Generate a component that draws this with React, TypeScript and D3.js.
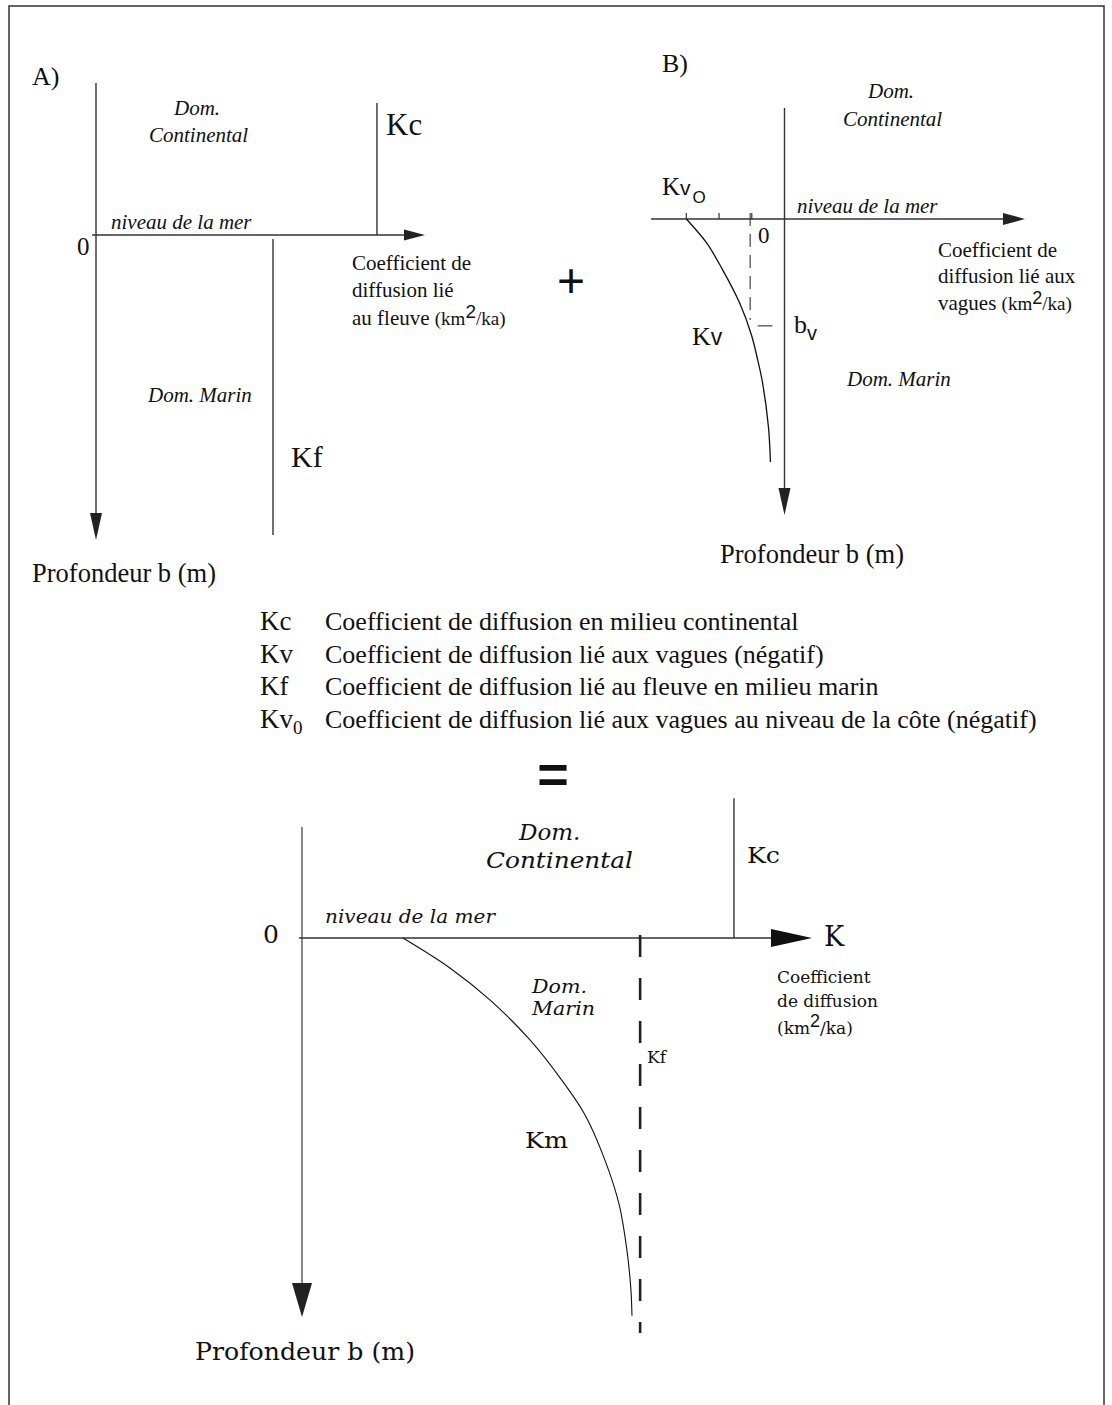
import React from 'react';
import * as d3 from 'd3';

// ---------- Panel A : river diffusion coefficient (constant) ----------
const aNames = ['Kc', 'Kf'];
const aK = [85.4, 53.8];
const aDepthFrom = [-43.3, 1.3];
const aDepthTo = [0, 98.4];

// ---------- Panel B : wave diffusion coefficient (negative) ----------
const bDepth = [0, 0.81, 1.72, 2.84, 3.92, 4.76, 5.54, 7.03, 8.21];
const bKv = [-3.0, -2.38, -1.89, -1.37, -1.01, -0.82, -0.67, -0.49, -0.43];
const bTicks = [-3, -2, -1];
const bDashK = -1.05;
const bDashDepth = [-0.2, 3.41];
const bvDepth = 3.61;
const bvK = [-0.82, -0.37];

// ---------- Panel C : resulting coefficient ----------
const cDepth = [0, 7.9, 16.4, 26.9, 36.9, 46.7, 58.6, 70.4, 82.3, 92.9, 99.7];
const cKm = [19.8, 29.0, 36.9, 44.7, 50.6, 55.5, 59.4, 62.2, 63.7, 64.5, 64.7];
const cKf = 66.3;
const cKfDepth = [-0.8, 104.2];
const cKc = 84.7;
const cKcTop = -36.9;

// ---------- Legend ----------
const legendSymbols = ['Kc', 'Kv', 'Kf', 'Kv'];
const legendSubs = ['', '', '', '0'];
const legendTexts = [
  'Coefficient de diffusion en milieu continental',
  'Coefficient de diffusion lié aux vagues (négatif)',
  'Coefficient de diffusion lié au fleuve en milieu marin',
  'Coefficient de diffusion lié aux vagues au niveau de la côte (négatif)',
];

const SERIF = '"Liberation Serif", "Times New Roman", serif';
const SANS = '"Liberation Sans", Arial, sans-serif';
const CENT = '"DejaVu Serif", serif';
const AX = '#333';

const T = ({ x, y, size, fam = SERIF, it = false, children, anchor = 'start', len, weight }: any) => (
  <text x={x} y={y} fontSize={size} fontFamily={fam} fontStyle={it ? 'italic' : 'normal'}
    textAnchor={anchor} fill="#111" fontWeight={weight}
    {...(len ? { textLength: len, lengthAdjust: 'spacingAndGlyphs' } : {})}>{children}</text>
);

const arrowDown = (x: number, tip: number, h: number, hw: number) =>
  `M${x - hw},${tip - h}L${x + hw},${tip - h}L${x},${tip}Z`;
const arrowRight = (y: number, tip: number, h: number, hh: number) =>
  `M${tip - h},${y - hh}L${tip - h},${y + hh}L${tip},${y}Z`;

export default function App() {
  // scales
  const xA = d3.scaleLinear().domain([0, 100]).range([96, 425]);
  const yA = d3.scaleLinear().domain([0, 100]).range([235, 540]);
  const xB = d3.scaleLinear().domain([-4.08, 7.35]).range([651, 1025]);
  const yB = d3.scaleLinear().domain([0, 10]).range([219, 515]);
  const xC = d3.scaleLinear().domain([0, 100]).range([302, 812]);
  const yC = d3.scaleLinear().domain([0, 100]).range([938, 1317]);

  const lineB = d3.line<number>().x((_, i) => xB(bKv[i])).y((d) => yB(d)).curve(d3.curveCatmullRom.alpha(0.5));
  const lineC = d3.line<number>().x((_, i) => xC(cKm[i])).y((d) => yC(d)).curve(d3.curveCatmullRom.alpha(0.5));

  return (
    <svg width={1112} height={1405} style={{ position: 'absolute', left: 0, top: 0, background: '#fff' }}>
      <rect x={0} y={0} width={1112} height={1405} fill="#fff" />
      <rect x={9} y={6} width={1095} height={1430} fill="none" stroke="#333" strokeWidth={1.5} />

      {/* ================= Panel A ================= */}
      <T x={32} y={85} size={26}>A)</T>
      <line x1={xA(0)} x2={xA(0)} y1={yA(-49.8)} y2={yA(92)} stroke={AX} strokeWidth={1.4} />
      <path d={arrowDown(xA(0), yA(100), 27, 6)} fill="#222" />
      <line x1={xA(-1.2)} x2={xA(94)} y1={yA(0)} y2={yA(0)} stroke={AX} strokeWidth={1.4} />
      <path d={arrowRight(yA(0), xA(100), 21, 5.5)} fill="#222" />
      {aNames.map((n, i) => (
        <line key={n} x1={xA(aK[i])} x2={xA(aK[i])} y1={yA(aDepthFrom[i])} y2={yA(aDepthTo[i])} stroke={AX} strokeWidth={1.4} />
      ))}
      <T x={174} y={115} size={21} it>Dom.</T>
      <T x={149} y={142} size={21} it>Continental</T>
      <T x={111} y={229} size={21} it>niveau de la mer</T>
      <T x={77} y={255} size={25}>0</T>
      <T x={386} y={135} size={31}>Kc</T>
      <T x={291} y={467} size={30}>Kf</T>
      <T x={148} y={402} size={21} it>Dom. Marin</T>
      <T x={352} y={270} size={21}>Coefficient de</T>
      <T x={352} y={297} size={21}>diffusion lié</T>
      <text x={352} y={325} fontFamily={SERIF} fontSize={21} fill="#111">
        au fleuve <tspan fontSize={19}>(km</tspan>
        <tspan fontFamily={SANS} fontSize={19} dy={-7}>2</tspan>
        <tspan fontSize={19} dy={7}>/ka)</tspan>
      </text>
      <T x={32} y={582} size={26.5}>Profondeur b (m)</T>

      {/* plus sign */}
      <T x={571} y={297} size={48} fam={SANS} anchor="middle">+</T>

      {/* ================= Panel B ================= */}
      <T x={662} y={72} size={26}>B)</T>
      <line x1={xB(0)} x2={xB(0)} y1={yB(-3.75)} y2={yB(9.2)} stroke={AX} strokeWidth={1.4} />
      <path d={arrowDown(xB(0), yB(10), 27, 6)} fill="#222" />
      <line x1={xB(-4.08)} x2={xB(6.8)} y1={yB(0)} y2={yB(0)} stroke={AX} strokeWidth={1.4} />
      <path d={arrowRight(yB(0), xB(7.35), 22, 6)} fill="#222" />
      {bTicks.map((t) => (
        <line key={t} x1={xB(t)} x2={xB(t)} y1={yB(0) - 6} y2={yB(0)} stroke={AX} strokeWidth={1.2} />
      ))}
      <line x1={xB(bDashK)} x2={xB(bDashK)} y1={yB(bDashDepth[0])} y2={yB(bDashDepth[1])}
        stroke={AX} strokeWidth={1.1} strokeDasharray="13,8" />
      <line x1={xB(bvK[0])} x2={xB(bvK[1])} y1={yB(bvDepth)} y2={yB(bvDepth)} stroke={AX} strokeWidth={1.1} />
      <path d={lineB(bDepth) || ''} fill="none" stroke="#111" strokeWidth={1.3} />
      <T x={868} y={98} size={21} it>Dom.</T>
      <T x={843} y={126} size={21} it>Continental</T>
      <T x={797} y={213} size={21} it>niveau de la mer</T>
      <text x={662} y={195} fontFamily={SERIF} fontSize={25} fill="#111">
        K<tspan fontFamily={SANS} fontSize={21}>v</tspan>
        <tspan fontFamily={SANS} fontSize={17} dx={2} dy={8}>O</tspan>
      </text>
      <T x={758} y={243} size={23}>0</T>
      <T x={938} y={257} size={21}>Coefficient de</T>
      <T x={938} y={283} size={21}>diffusion lié aux</T>
      <text x={938} y={310} fontFamily={SERIF} fontSize={21} fill="#111">
        vagues <tspan fontSize={19}>(km</tspan>
        <tspan fontFamily={SANS} fontSize={18} dy={-6}>2</tspan>
        <tspan fontSize={19} dy={6}>/ka)</tspan>
      </text>
      <text x={692} y={345} fontFamily={SERIF} fontSize={26} fill="#111">
        K<tspan fontFamily={SANS} fontSize={23}>v</tspan>
      </text>
      <text x={794} y={333} fontFamily={SERIF} fontSize={26} fill="#111">
        b<tspan fontFamily={SANS} fontSize={20} dy={7}>v</tspan>
      </text>
      <T x={847} y={386} size={21} it>Dom. Marin</T>
      <T x={720} y={563} size={26.5}>Profondeur b (m)</T>

      {/* ================= Legend ================= */}
      {legendSymbols.map((s, i) => (
        <g key={i}>
          <text x={260} y={630 + i * 32.5} fontFamily={SERIF} fontSize={27} fill="#111">
            {s}
            {legendSubs[i] ? <tspan fontSize={19} dy={6}>{legendSubs[i]}</tspan> : null}
          </text>
          <T x={325} y={630 + i * 32.5} size={26}>{legendTexts[i]}</T>
        </g>
      ))}

      {/* equals sign */}
      <T x={553} y={793} size={54} fam={SANS} anchor="middle" weight="bold">=</T>

      {/* ================= Panel C ================= */}
      <line x1={xC(0)} x2={xC(0)} y1={yC(-29.3)} y2={yC(92)} stroke="#555" strokeWidth={1.4} />
      <path d={arrowDown(xC(0), yC(100), 34, 10)} fill="#222" />
      <line x1={xC(-0.6)} x2={xC(94)} y1={yC(0)} y2={yC(0)} stroke={AX} strokeWidth={1.4} />
      <path d={arrowRight(yC(0), xC(100), 41, 9)} fill="#111" />
      <line x1={xC(cKc)} x2={xC(cKc)} y1={yC(cKcTop)} y2={yC(0)} stroke={AX} strokeWidth={1.4} />
      <line x1={xC(cKf)} x2={xC(cKf)} y1={yC(cKfDepth[0])} y2={yC(cKfDepth[1])}
        stroke="#222" strokeWidth={2.6} strokeDasharray="22,21" />
      <path d={lineC(cDepth) || ''} fill="none" stroke="#111" strokeWidth={1.1} />

      <T x={519} y={840} size={23} fam={CENT} it>Dom.</T>
      <T x={486} y={868} size={23} fam={CENT} it len={147}>Continental</T>
      <T x={747} y={863} size={22} fam={CENT} len={33}>Kc</T>
      <T x={263} y={943} size={25} fam={CENT}>0</T>
      <T x={325} y={923} size={19} fam={CENT} it len={170}>niveau de la mer</T>
      <T x={824} y={946} size={27} fam={CENT}>K</T>
      <T x={777} y={983} size={17} fam={CENT}>Coefficient</T>
      <T x={777} y={1007} size={17} fam={CENT}>de diffusion</T>
      <text x={777} y={1034} fontFamily={CENT} fontSize={17} fill="#111">
        (km<tspan fontFamily={SANS} fontSize={18} dy={-7}>2</tspan>
        <tspan dy={7}>/ka)</tspan>
      </text>
      <T x={532} y={993} size={18} fam={CENT} it len={55}>Dom.</T>
      <T x={532} y={1015} size={18} fam={CENT} it len={63}>Marin</T>
      <T x={647} y={1063} size={17} fam={CENT}>Kf</T>
      <T x={525} y={1148} size={23} fam={CENT} len={43}>Km</T>
      <T x={195} y={1360} size={25} fam={CENT} len={220}>Profondeur b (m)</T>
    </svg>
  );
}
